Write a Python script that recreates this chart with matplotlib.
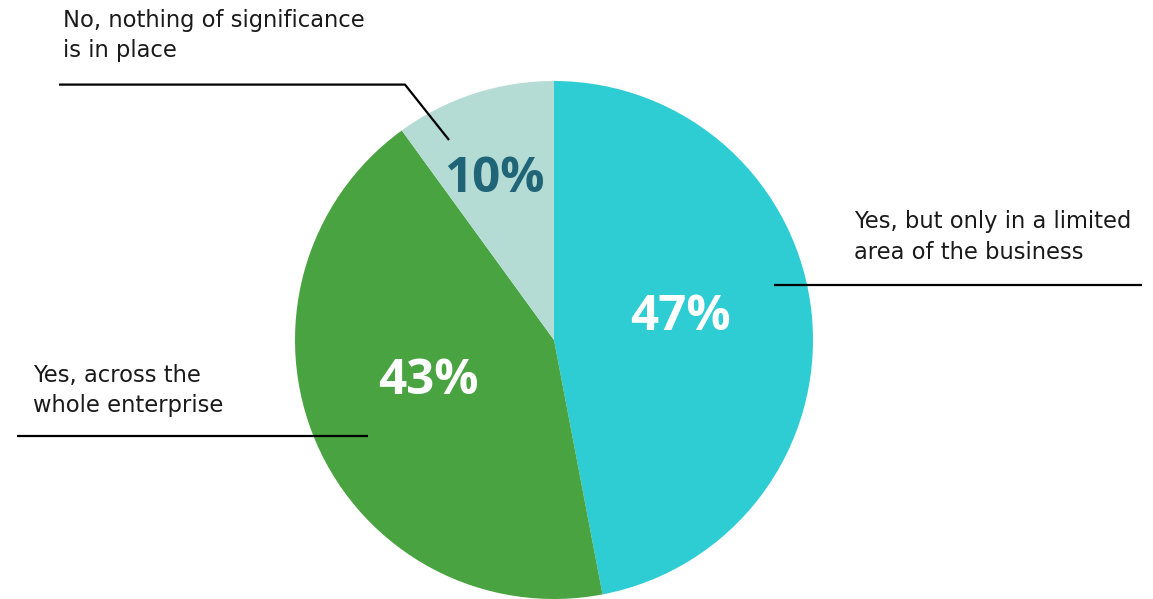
import matplotlib
matplotlib.use("Agg")
import matplotlib.pyplot as plt
import numpy as np

# ---- data ----
categories = ["Yes, but only in a limited\narea of the business",
              "Yes, across the\nwhole enterprise",
              "No, nothing of significance\nis in place"]
values = [47, 43, 10]
pct_labels = [f"{v}%" for v in values]
colors = ["#2ECCD3", "#4AA341", "#B5DBD5"]
pct_colors = ["white", "white", "#1F6577"]

W, H = 1153, 599
fig = plt.figure(figsize=(W / 100, H / 100), dpi=100)
ax = fig.add_axes([0, 0, 1, 1])
ax.set_xlim(0, W)
ax.set_ylim(0, H)
ax.set_aspect("equal")
ax.axis("off")

def Y(y):
    return H - y

cx, cy, r = 554, Y(340), 259
wedges, _ = ax.pie(values, colors=colors, startangle=90, counterclock=False,
                   center=(cx, cy), radius=r, frame=True,
                   wedgeprops=dict(linewidth=0, antialiased=True))
ax.set_xlim(0, W)
ax.set_ylim(0, H)
ax.axis("off")

# percentage labels
pct_pos = [(680, 318), (428, 382), (494, 180)]
for (px, py), t, c in zip(pct_pos, pct_labels, pct_colors):
    ax.text(px, Y(py), t, ha="center", va="center", color=c,
            fontsize=35.5, fontweight="bold", family=["Open Sans", "DejaVu Sans"])

# category labels (anchored at baseline of the last line)
lab_kw = dict(fontsize=16.3, color="#1a1a1a", family=["DejaVu Sans"],
              ha="left", va="baseline", linespacing=1.4)
ax.text(854, Y(258.6), categories[0], **lab_kw)
ax.text(33, Y(412), categories[1], **lab_kw)
ax.text(63, Y(57.5), categories[2], **lab_kw)

# leader lines
lk = dict(color="black", lw=1.6, solid_capstyle="butt")
ax.plot([774, 1142], [Y(284.6), Y(284.6)], **lk)
ax.plot([17, 368], [Y(436), Y(436)], **lk)
ax.plot([59, 405, 449], [Y(84.6), Y(84.6), Y(140)], **lk)

fig.savefig("out.png", dpi=100, facecolor="white")
